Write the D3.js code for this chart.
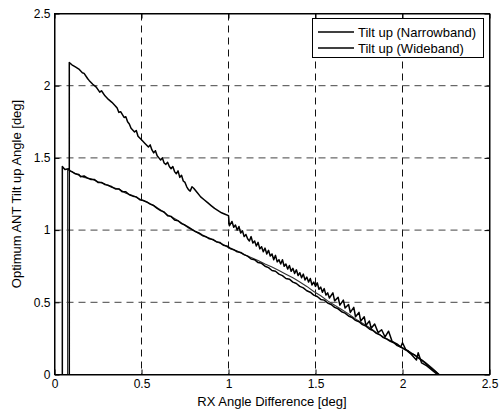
<!DOCTYPE html>
<html>
<head>
<meta charset="utf-8">
<script src="https://cdn.jsdelivr.net/npm/d3@7"></script>
<style>
  body { margin: 0; background: #fff; }
  svg { display: block; font-family: "Liberation Sans", Arial, Helvetica, sans-serif; }
</style>
</head>
<body>
<svg id="chart" width="504" height="411"></svg>
<script>
const xTicks = [0, 0.5, 1, 1.5, 2, 2.5];
const xTickLabels = ['0', '0.5', '1', '1.5', '2', '2.5'];
const yTicks = [0, 0.5, 1, 1.5, 2, 2.5];
const yTickLabels = ['0', '0.5', '1', '1.5', '2', '2.5'];
const seriesNames = ['Tilt up (Narrowband)', 'Tilt up (Wideband)'];

// upper curve (narrowband)
const narrowX = [0.085, 0.085, 0.10, 0.12, 0.14, 0.16, 0.17, 0.19, 0.20, 0.22, 0.24, 0.26, 0.27, 0.29, 0.31, 0.33,
  0.35, 0.36, 0.37, 0.38, 0.40, 0.41, 0.42, 0.43, 0.44, 0.46, 0.47, 0.48, 0.50, 0.52, 0.54, 0.55, 0.56, 0.57,
  0.58, 0.59, 0.60, 0.61, 0.62, 0.63, 0.64, 0.65, 0.66, 0.67, 0.68, 0.69, 0.70, 0.71, 0.72, 0.73, 0.74, 0.75,
  0.76, 0.77, 0.78, 0.79, 0.80, 0.82, 0.84, 0.86, 0.88, 0.90, 0.92, 0.94, 0.96, 0.98, 1.00, 1.005, 1.02, 1.03,
  1.04, 1.05, 1.06, 1.07, 1.08, 1.09, 1.10, 1.11, 1.12, 1.13, 1.14, 1.15, 1.16, 1.17, 1.18, 1.19, 1.20, 1.21,
  1.22, 1.23, 1.24, 1.25, 1.26, 1.27, 1.28, 1.29, 1.30, 1.31, 1.32, 1.33, 1.34, 1.35, 1.36, 1.37, 1.38, 1.39,
  1.40, 1.41, 1.42, 1.43, 1.44, 1.45, 1.46, 1.47, 1.48, 1.49, 1.50, 1.51, 1.52, 1.53, 1.54, 1.55, 1.56, 1.57,
  1.58, 1.60, 1.61, 1.63, 1.64, 1.66, 1.67, 1.69, 1.70, 1.72, 1.73, 1.75, 1.76, 1.78, 1.79, 1.81, 1.82, 1.84,
  1.86, 1.88, 1.90, 1.92, 1.94, 1.97, 1.99, 2.00, 2.02, 2.05, 2.08, 2.09, 2.11, 2.14, 2.17, 2.20];
const narrowY = [0, 2.16, 2.145, 2.13, 2.115, 2.09, 2.085, 2.05, 2.035, 2.01, 1.99, 1.955, 1.965, 1.93, 1.905, 1.885,
  1.86, 1.845, 1.815, 1.82, 1.78, 1.785, 1.75, 1.735, 1.705, 1.68, 1.69, 1.65, 1.625, 1.60, 1.575, 1.59, 1.555, 1.535,
  1.55, 1.515, 1.50, 1.485, 1.50, 1.465, 1.455, 1.47, 1.44, 1.425, 1.44, 1.405, 1.39, 1.41, 1.365, 1.38, 1.34, 1.33,
  1.30, 1.28, 1.27, 1.30, 1.29, 1.26, 1.23, 1.21, 1.19, 1.17, 1.15, 1.135, 1.12, 1.11, 1.10, 1.03, 1.06, 1.02,
  1.035, 1.00, 1.025, 0.98, 0.995, 0.955, 0.97, 0.94, 0.925, 0.955, 0.91, 0.925, 0.89, 0.915, 0.87, 0.885, 0.85, 0.875,
  0.835, 0.86, 0.82, 0.835, 0.795, 0.825, 0.78, 0.795, 0.765, 0.795, 0.75, 0.765, 0.73, 0.755, 0.715, 0.735, 0.70, 0.725,
  0.685, 0.705, 0.67, 0.695, 0.655, 0.675, 0.64, 0.665, 0.62, 0.64, 0.61, 0.635, 0.59, 0.605, 0.57, 0.595, 0.55, 0.565,
  0.53, 0.565, 0.51, 0.535, 0.48, 0.515, 0.46, 0.485, 0.43, 0.465, 0.40, 0.43, 0.37, 0.40, 0.34, 0.37, 0.32, 0.35,
  0.29, 0.31, 0.26, 0.30, 0.23, 0.21, 0.19, 0.22, 0.17, 0.14, 0.10, 0.15, 0.08, 0.06, 0.03, 0.0];

// lower curve (wideband)
const wideX = [0.045, 0.045, 0.06, 0.08, 0.09, 0.10, 0.12, 0.14, 0.15, 0.17, 0.19, 0.21, 0.23, 0.25, 0.27, 0.29,
  0.31, 0.33, 0.35, 0.37, 0.39, 0.41, 0.43, 0.45, 0.47, 0.49, 0.51, 0.53, 0.55, 0.57, 0.59, 0.61, 0.63, 0.65,
  0.67, 0.69, 0.71, 0.73, 0.75, 0.77, 0.79, 0.81, 0.83, 0.85, 0.87, 0.89, 0.91, 0.93, 0.95, 0.97, 0.99, 1.01,
  1.03, 1.05, 1.07, 1.09, 1.11, 1.13, 1.15, 1.17, 1.19, 1.21, 1.23, 1.25, 1.27, 1.29, 1.31, 1.33, 1.35, 1.37,
  1.39, 1.41, 1.43, 1.45, 1.47, 1.49, 1.51, 1.53, 1.55, 1.57, 1.59, 1.61, 1.63, 1.65, 1.67, 1.69, 1.71, 1.73,
  1.75, 1.77, 1.79, 1.81, 1.83, 1.85, 1.87, 1.89, 1.91, 1.93, 1.95, 1.97, 1.99, 2.01, 2.03, 2.05, 2.07, 2.09,
  2.11, 2.13, 2.15, 2.17, 2.19, 2.21];
const wideY = [0, 1.44, 1.42, 1.425, 1.41, 1.405, 1.39, 1.385, 1.37, 1.375, 1.36, 1.35, 1.35, 1.33, 1.33, 1.315,
  1.31, 1.30, 1.285, 1.285, 1.265, 1.265, 1.245, 1.235, 1.23, 1.21, 1.205, 1.195, 1.18, 1.17, 1.15, 1.135,
  1.125, 1.10, 1.095, 1.07, 1.065, 1.045, 1.035, 1.02, 1.005, 0.99, 0.98, 0.965, 0.955, 0.94, 0.935, 0.92,
  0.915, 0.895, 0.89, 0.875, 0.865, 0.85, 0.845, 0.83, 0.82, 0.80, 0.795, 0.775, 0.77, 0.75, 0.74, 0.72,
  0.715, 0.695, 0.685, 0.665, 0.66, 0.64, 0.63, 0.61, 0.60, 0.58, 0.57, 0.55, 0.54, 0.52, 0.515, 0.495,
  0.485, 0.465, 0.455, 0.435, 0.425, 0.405, 0.395, 0.375, 0.365, 0.345, 0.335, 0.315, 0.305, 0.285, 0.275,
  0.255, 0.245, 0.23, 0.22, 0.20, 0.19, 0.175, 0.165, 0.145, 0.135, 0.115, 0.10, 0.08, 0.06, 0.04, 0.02, 0.0];

// third curve, drawn next to the wideband one (not in legend)
const extraX = [0.075, 0.075, 0.09, 0.13, 0.17, 0.21, 0.25, 0.29, 0.33, 0.37, 0.41, 0.45, 0.49, 0.53, 0.57, 0.61,
  0.65, 0.69, 0.73, 0.77, 0.81, 0.85, 0.89, 0.93, 0.97, 1.01, 1.05, 1.09, 1.13, 1.17, 1.21, 1.25, 1.29, 1.33,
  1.37, 1.41, 1.45, 1.49, 1.53, 1.57, 1.61, 1.65, 1.69, 1.73, 1.77, 1.81, 1.85, 1.89, 1.93, 1.97, 2.01, 2.05,
  2.09, 2.13, 2.17, 2.21];
const extraY = [0, 1.42, 1.41, 1.385, 1.365, 1.355, 1.335, 1.32, 1.295, 1.285, 1.255, 1.24, 1.215, 1.195, 1.17,
  1.14, 1.105, 1.08, 1.05, 1.015, 0.99, 0.96, 0.945, 0.92, 0.90, 0.87, 0.855, 0.83, 0.81, 0.79, 0.765, 0.745,
  0.72, 0.695, 0.67, 0.64, 0.61, 0.575, 0.545, 0.51, 0.48, 0.45, 0.42, 0.385, 0.355, 0.325, 0.29, 0.26, 0.235,
  0.205, 0.18, 0.15, 0.12, 0.085, 0.045, 0];

const svg = d3.select('#chart');
const plotLeft = 54.5, plotRight = 489.5, plotTop = 13.5, plotBottom = 374.5;

const x = d3.scaleLinear().domain([0, 2.5]).range([plotLeft, plotRight]);
const y = d3.scaleLinear().domain([0, 2.5]).range([plotBottom, plotTop]);

// grid
const grid = svg.append('g');
grid.selectAll('.vg')
  .data(xTicks.slice(1, -1))
  .enter()
  .append('line')
  .attr('x1', d => x(d)).attr('x2', d => x(d))
  .attr('y1', plotTop).attr('y2', plotBottom)
  .attr('stroke', '#111')
  .attr('stroke-dasharray', '7,5');
grid.selectAll('.hg')
  .data(yTicks.slice(1, -1))
  .enter()
  .append('line')
  .attr('x1', plotLeft).attr('x2', plotRight)
  .attr('y1', d => y(d)).attr('y2', d => y(d))
  .attr('stroke', '#444')
  .attr('stroke-dasharray', '7,5');

// curves
const line = d3.line()
  .x(d => x(d[0]))
  .y(d => y(d[1]));

const curves = [
  { xs: extraX, ys: extraY, width: 1.1, color: '#333' },
  { xs: wideX, ys: wideY, width: 1.5, color: '#000' },
  { xs: narrowX, ys: narrowY, width: 1.5, color: '#000' }
];

curves.forEach(c => {
  svg.append('path')
    .datum(c.xs.map((v, i) => [v, c.ys[i]]))
    .attr('d', line)
    .attr('fill', 'none')
    .attr('stroke', c.color)
    .attr('stroke-width', c.width)
    .attr('stroke-linejoin', 'round');
});

// axes, ticks inside
svg.append('g')
  .attr('transform', `translate(0, ${plotBottom})`)
  .call(d3.axisBottom(x).tickValues(xTicks).tickSize(-5).tickSizeOuter(0).tickPadding(5)
    .tickFormat((d, i) => xTickLabels[i]));
svg.append('g')
  .attr('transform', `translate(0, ${plotTop})`)
  .call(d3.axisTop(x).tickValues(xTicks).tickSize(-5).tickSizeOuter(0).tickFormat(''));
svg.append('g')
  .attr('transform', `translate(${plotLeft}, 0)`)
  .call(d3.axisLeft(y).tickValues(yTicks).tickSize(-5).tickSizeOuter(0).tickPadding(4)
    .tickFormat((d, i) => yTickLabels[i]));
svg.append('g')
  .attr('transform', `translate(${plotRight}, 0)`)
  .call(d3.axisRight(y).tickValues(yTicks).tickSize(-5).tickSizeOuter(0).tickFormat(''));

svg.selectAll('.tick text')
  .attr('font-family', '"Liberation Sans", Arial, sans-serif')
  .attr('font-size', '12px')
  .attr('fill', '#000');
svg.selectAll('.domain').attr('stroke', '#000');

svg.append('rect')
  .attr('x', plotLeft).attr('y', plotTop)
  .attr('width', plotRight - plotLeft).attr('height', plotBottom - plotTop)
  .attr('fill', 'none')
  .attr('stroke', '#000');

// axis labels
svg.append('text')
  .attr('x', (plotLeft + plotRight) / 2)
  .attr('y', 406)
  .attr('text-anchor', 'middle')
  .attr('font-size', '13px')
  .text('RX Angle Difference [deg]');

svg.append('text')
  .attr('transform', `translate(21, ${(plotTop + plotBottom) / 2}) rotate(-90)`)
  .attr('text-anchor', 'middle')
  .attr('font-size', '13px')
  .text('Optimum ANT Tilt up Angle [deg]');

// legend
const legend = svg.append('g');
legend.append('rect')
  .attr('x', 312.5).attr('y', 18.5)
  .attr('width', 171).attr('height', 39)
  .attr('fill', '#fff')
  .attr('stroke', '#000');

seriesNames.forEach((name, i) => {
  const ly = 32 + i * 16;
  legend.append('line')
    .attr('x1', 318).attr('x2', 354)
    .attr('y1', ly).attr('y2', ly)
    .attr('stroke', '#000')
    .attr('stroke-width', 1.5);
  legend.append('text')
    .attr('x', 358)
    .attr('y', ly + 4.5)
    .attr('font-size', '13px')
    .text(name);
});
</script>
</body>
</html>
